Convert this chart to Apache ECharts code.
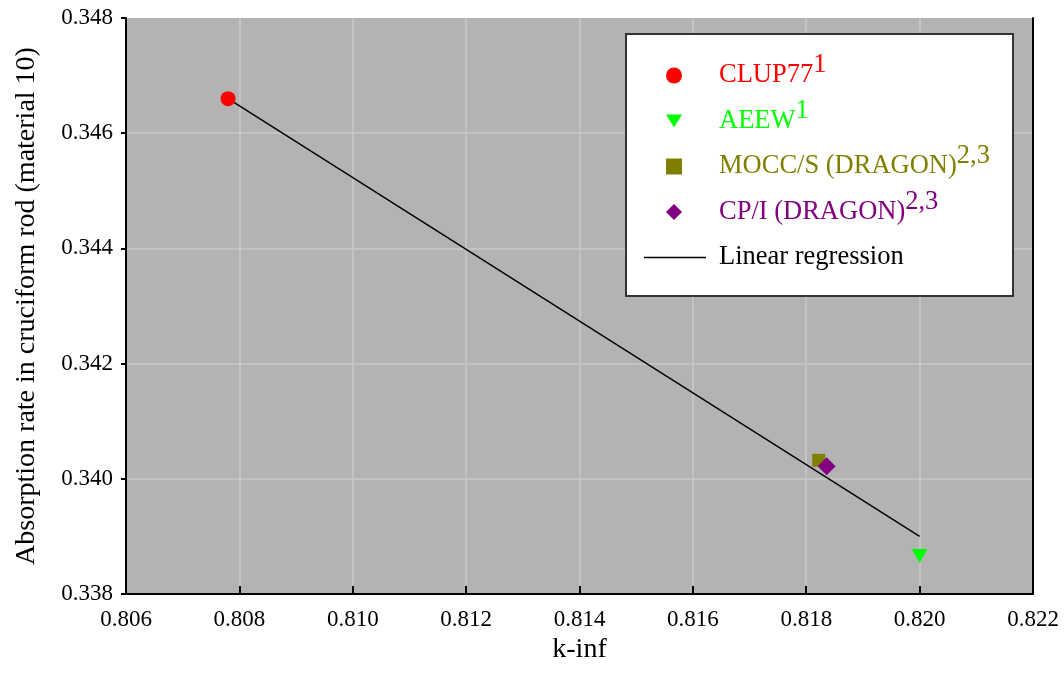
<!DOCTYPE html>
<html>
<head>
<meta charset="utf-8">
<script src="https://cdn.jsdelivr.net/npm/echarts@6/dist/echarts.min.js"></script>
<style>
html,body{margin:0;padding:0;background:#fff;}
#chart{width:1064px;height:687px;}
</style>
</head>
<body>
<div id="chart"></div>
<script>
// data
var clup77 = [[0.80780, 0.34660]];
var aeew = [[0.82000, 0.33866]];
var moccs = [[0.81822, 0.34032]];
var cpi = [[0.81836, 0.34022]];
var regression = [[0.80780, 0.34660], [0.82000, 0.33900]];

var xTicks = [0.806, 0.822, 0.002];
var yTicks = [0.338, 0.348, 0.002];

window.onload = function(){
    var myChart = echarts.init(document.getElementById('chart'));
    var serif = '"Liberation Serif", "DejaVu Serif", serif';

    // main text + raised superscript
    function main(c){ return {color: c, fontSize: 26.5, fontFamily: serif, lineHeight: 46}; }
    function sup(c){ return {color: c, fontSize: 26.5, fontFamily: serif, padding: [0, 0, 20, 0]}; }

    var rich = {
        r: main('#ff0000'), g: main('#00ff00'), o: main('#808000'), p: main('#800080'), k: main('#000'),
        rs: sup('#ff0000'), gs: sup('#00ff00'), os: sup('#808000'), ps: sup('#800080')
    };

    var labels = {
        'CLUP77': '{r|CLUP77}{rs|1}',
        'AEEW': '{g|AEEW}{gs|1}',
        'MOCC/S (DRAGON)': '{o|MOCC/S (DRAGON)}{os|2,3}',
        'CP/I (DRAGON)': '{p|CP/I (DRAGON)}{ps|2,3}',
        'Linear regression': '{k|Linear regression}'
    };

    var option = {
        animation: false,
        backgroundColor: '#fff',
        textStyle: {fontFamily: serif},
        grid: {left: 126, top: 18, right: 31, bottom: 93, backgroundColor: '#b3b3b3', show: true, borderWidth: 0},
        legend: [{
            orient: 'vertical',
            left: 666, top: 52,
            itemWidth: 16, itemHeight: 16,
            itemGap: 8.5,
            padding: 0,
            textStyle: {fontSize: 26.5, fontFamily: serif, padding: [0, 0, 0, 32], rich: rich},
            formatter: function(name){ return labels[name]; },
            data: [
                {name: 'CLUP77', icon: 'circle'},
                {name: 'AEEW', icon: 'path://M0,0L16,0L8,13Z'},
                {name: 'MOCC/S (DRAGON)', icon: 'rect'},
                {name: 'CP/I (DRAGON)', icon: 'diamond'}
            ]
        }, {
            orient: 'vertical',
            left: 644, top: 244,
            itemWidth: 62, itemHeight: 16,
            padding: 0,
            textStyle: {fontSize: 26.5, fontFamily: serif, padding: [0, 0, 0, 8], rich: rich},
            formatter: function(name){ return labels[name]; },
            data: [{name: 'Linear regression', icon: 'path://M0,0L62,0L62,1.4L0,1.4Z'}]
        }],
        graphic: [{
            type: 'rect', left: 625, top: 33, z: 3,
            shape: {width: 387, height: 262},
            style: {fill: '#fff', stroke: '#333', lineWidth: 2}
        }],
        xAxis: {
            type: 'value', min: xTicks[0], max: xTicks[1], interval: xTicks[2],
            name: 'k-inf', nameLocation: 'middle', nameGap: 33,
            nameTextStyle: {fontSize: 28, color: '#000', fontFamily: serif},
            axisLine: {lineStyle: {color: '#000', width: 2}},
            axisTick: {inside: true, length: 8, lineStyle: {color: '#000', width: 2}},
            axisLabel: {color: '#000', fontSize: 23, fontFamily: serif, margin: 14,
                formatter: function(v){ return v.toFixed(3); }},
            splitLine: {show: true, showMaxLine: false, lineStyle: {color: '#c9c9c9', width: 1.5}}
        },
        yAxis: [{
            type: 'value', min: yTicks[0], max: yTicks[1], interval: yTicks[2],
            name: 'Absorption rate in cruciform rod (material 10)', nameLocation: 'middle', nameGap: 85,
            nameTextStyle: {fontSize: 28, color: '#000', fontFamily: serif},
            axisLine: {show: true, lineStyle: {color: '#000', width: 2}},
            axisTick: {show: true, length: 5, lineStyle: {color: '#000', width: 2}},
            axisLabel: {color: '#000', fontSize: 23, fontFamily: serif, margin: 13,
                formatter: function(v){ return v.toFixed(3); }},
            splitLine: {show: true, showMaxLine: false, lineStyle: {color: '#c9c9c9', width: 1.5}}
        }, {
            type: 'value', min: yTicks[0], max: yTicks[1], interval: yTicks[2], position: 'right',
            axisLine: {show: true, lineStyle: {color: '#000', width: 2}},
            axisTick: {show: false}, axisLabel: {show: false}, splitLine: {show: false}
        }],
        series: [
            {name: 'Linear regression', type: 'line', data: regression, symbol: 'none',
                lineStyle: {color: '#000', width: 1.4}, itemStyle: {color: '#000'}, z: 2},
            {name: 'CLUP77', type: 'scatter', data: clup77, symbol: 'circle', symbolSize: 15,
                itemStyle: {color: '#ff0000', opacity: 1}, z: 3},
            {name: 'AEEW', type: 'scatter', data: aeew, symbol: 'triangle', symbolRotate: 180, symbolSize: [16, 14],
                itemStyle: {color: '#00ff00', opacity: 1}, z: 3},
            {name: 'MOCC/S (DRAGON)', type: 'scatter', data: moccs, symbol: 'rect', symbolSize: 13,
                itemStyle: {color: '#808000', opacity: 1}, z: 3},
            {name: 'CP/I (DRAGON)', type: 'scatter', data: cpi, symbol: 'diamond', symbolSize: 18,
                itemStyle: {color: '#800080', opacity: 1}, z: 4}
        ]
    };

    myChart.setOption(option);
}
</script>
</body>
</html>
